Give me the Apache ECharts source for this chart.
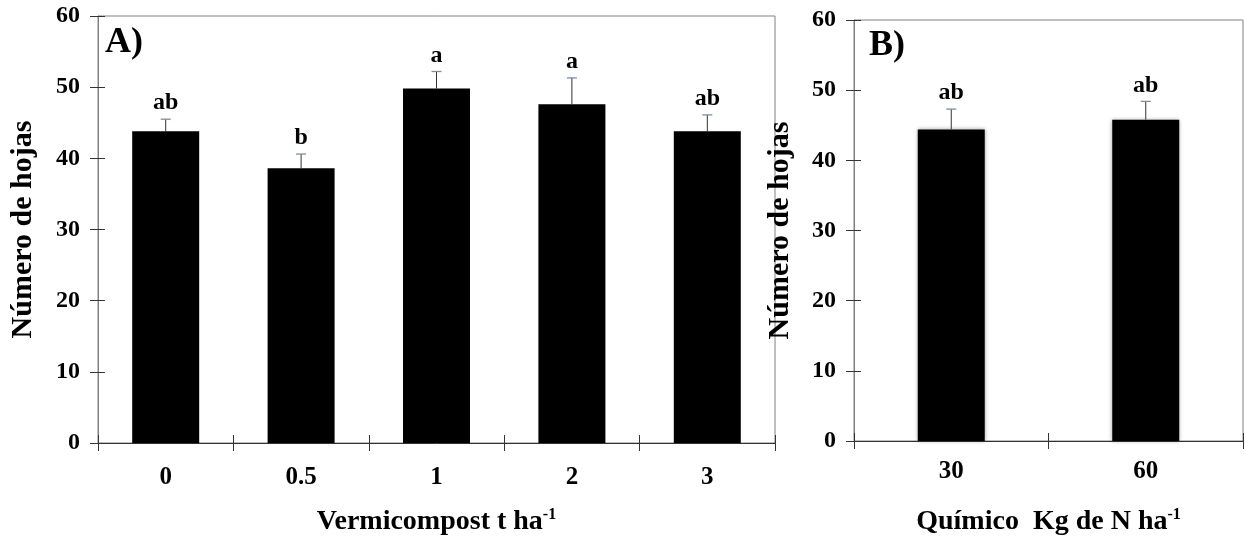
<!DOCTYPE html>
<html><head><meta charset="utf-8">
<script src="https://cdn.jsdelivr.net/npm/echarts@6/dist/echarts.min.js"></script>
<style>html,body{margin:0;padding:0;background:#fff}#c{width:1245px;height:541px}</style>
</head><body><div id="c"></div>
<script>
const catA = ['0', '0.5', '1', '2', '3'];
const meanA = [43.8, 38.6, 49.8, 47.6, 43.8];
const seA = [1.7, 2.0, 2.4, 3.7, 2.3];
const sigA = ['ab', 'b', 'a', 'a', 'ab'];
const catB = ['30', '60'];
const meanB = [44.4, 45.8];
const seB = [2.9, 2.6];
const sigB = ['ab', 'ab'];
const yMin = 0, yMax = 60, yStep = 10;

const FF = '"Liberation Serif", "Times New Roman", serif';
const chart = echarts.init(document.getElementById('c'));

function errRenderer(sig) {
  return function (params, api) {
    const i = params.dataIndex;
    const base = api.coord([api.value(0), api.value(1)]);
    const top = api.coord([api.value(0), api.value(1) + api.value(2)]);
    return {
      type: 'group', children: [
        { type: 'line', shape: { x1: base[0], y1: base[1], x2: top[0], y2: top[1] }, style: { stroke: '#333', lineWidth: 1 } },
        { type: 'line', shape: { x1: top[0] - 5, y1: top[1], x2: top[0] + 5, y2: top[1] }, style: { stroke: '#7d8ca3', lineWidth: 1.3 } },
        { type: 'text', x: top[0], y: top[1] - 4, style: { text: sig[i], fontSize: 24, fontWeight: 'bold', fontFamily: FF, align: 'center', verticalAlign: 'bottom', fill: '#000' } }
      ]
    };
  };
}

function yAxes(g, gap) {
  return [
    { gridIndex: g, type: 'value', position: 'left', min: yMin, max: yMax, interval: yStep,
      name: 'Número de hojas', nameLocation: 'middle', nameGap: gap,
      nameTextStyle: { fontSize: 30, fontWeight: 'bold', fontFamily: FF, color: '#000' },
      axisLine: { show: true, lineStyle: { color: '#808080' } },
      axisTick: { show: true, length: 8, lineStyle: { color: '#333' } },
      axisLabel: { fontSize: 24, fontWeight: 'bold', fontFamily: FF, color: '#000', margin: 18 },
      splitLine: { show: false } },
    { gridIndex: g, type: 'value', position: 'left', offset: 0, min: yMin, max: yMax, interval: yStep,
      axisLine: { show: false }, axisLabel: { show: false }, splitLine: { show: false },
      axisTick: { show: true, inside: true, length: 7, lineStyle: { color: '#333' } } }
  ];
}

function xAxes(g, cats, nameRich, gap, lblMargin) {
  return [
    { gridIndex: g, type: 'category', data: cats, position: 'bottom',
      name: nameRich, nameLocation: 'middle', nameGap: gap,
      nameTextStyle: { fontSize: 28, fontWeight: 'bold', fontFamily: FF, color: '#000',
        rich: { sup: { fontSize: 16, fontWeight: 'bold', fontFamily: FF, color: '#000', padding: [0, 0, 14, 0] } } },
      axisLine: { show: true, lineStyle: { color: '#333' } },
      axisTick: { show: true, length: 8, interval: 0, lineStyle: { color: '#333' } },
      axisLabel: { fontSize: 25, fontWeight: 'bold', fontFamily: FF, color: '#000', margin: lblMargin } },
    { gridIndex: g, type: 'category', data: cats, position: 'bottom', offset: 0,
      axisLine: { show: false }, axisLabel: { show: false },
      axisTick: { show: true, inside: true, length: 8, interval: 0, lineStyle: { color: '#333' } } }
  ];
}

chart.setOption({
  animation: false,
  backgroundColor: '#fff',
  title: [
    { text: 'A)', left: 100, top: 20, textStyle: { fontSize: 36, fontWeight: 'bold', fontFamily: FF, color: '#000' } },
    { text: 'B)', left: 864, top: 23, textStyle: { fontSize: 36, fontWeight: 'bold', fontFamily: FF, color: '#000' } }
  ],
  grid: [
    { left: 93, top: 16, width: 682, height: 439, show: true, borderColor: '#808080', borderWidth: 1, backgroundColor: 'transparent' },
    { left: 854, top: 20, width: 389, height: 428, show: true, borderColor: '#808080', borderWidth: 1, backgroundColor: 'transparent' }
  ],
  xAxis: [
    ...xAxes(0, catA, 'Vermicompost t ha{sup|-1}', 64, 22),
    ...xAxes(1, catB, 'Químico  Kg de N ha{sup|-1}', 66, 18)
  ],
  yAxis: [...yAxes(0, 60), ...yAxes(1, 59)],
  series: [
    { type: 'bar', xAxisIndex: 0, yAxisIndex: 0, data: meanA, barWidth: 67, itemStyle: { color: '#000' } },
    { type: 'custom', xAxisIndex: 0, yAxisIndex: 0, renderItem: errRenderer(sigA),
      data: meanA.map((v, i) => [i, v, seA[i]]), encode: { x: 0, y: 1 }, z: 5 },
    { type: 'bar', xAxisIndex: 2, yAxisIndex: 2, data: meanB, barWidth: 67,
      itemStyle: { color: '#000', shadowBlur: 4, shadowColor: 'rgba(0,0,0,0.35)' } },
    { type: 'custom', xAxisIndex: 2, yAxisIndex: 2, renderItem: errRenderer(sigB),
      data: meanB.map((v, i) => [i, v, seB[i]]), encode: { x: 0, y: 1 }, z: 5 }
  ]
});
</script></body></html>
